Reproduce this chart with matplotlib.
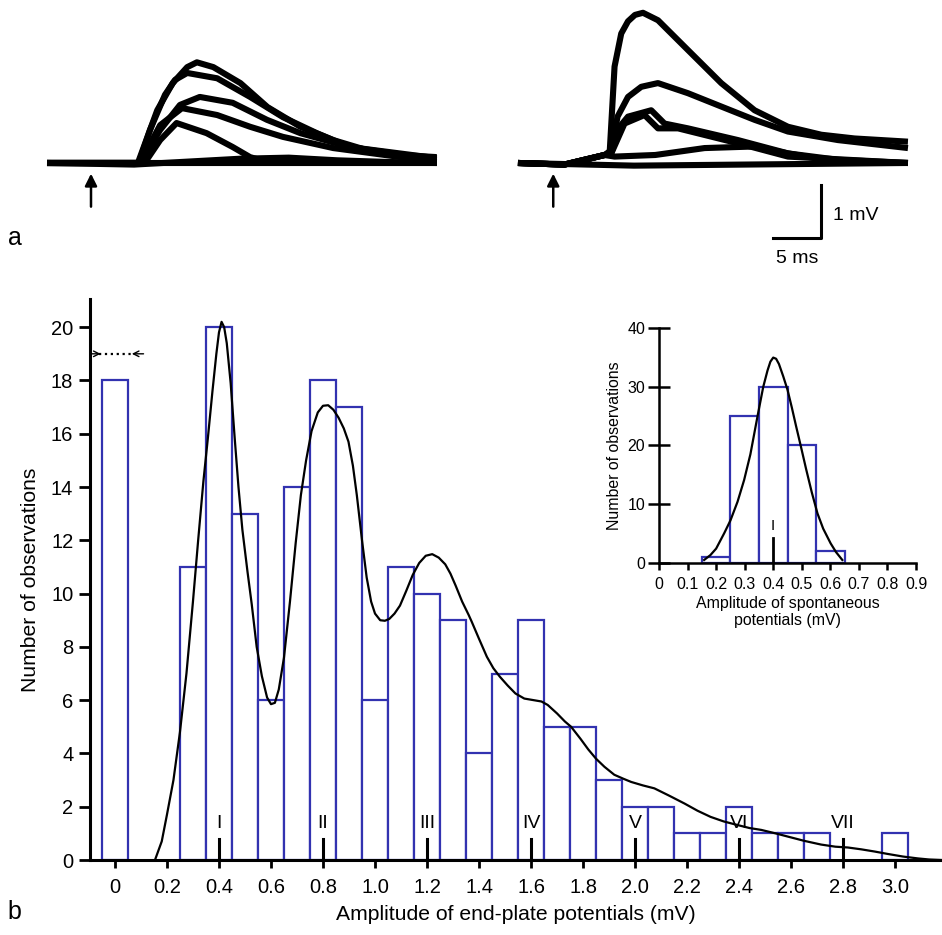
import numpy as np
import matplotlib
matplotlib.use("Agg")
import matplotlib.pyplot as plt

plt.rcParams['font.family'] = ['Liberation Sans', 'DejaVu Sans']

# ---- panel a: superimposed end-plate potentials (time in ms, amplitude in mV)
left_traces = [
    ([0, 9.4, 11.4, 13.0, 14.5, 15.5, 17.2, 20.0, 22.8, 26.2, 29.6, 33.1, 36.5, 40.3],
     [0, 0, 0.99, 1.50, 1.80, 1.89, 1.80, 1.50, 1.05, 0.68, 0.43, 0.24, 0.15, 0.11]),
    ([0, 9.5, 10.65, 12.2, 13.24, 14.5, 17.6, 21.0, 24.4, 27.9, 31.3, 40.3],
     [0, 0, 0.62, 1.28, 1.56, 1.69, 1.59, 1.24, 0.86, 0.56, 0.30, 0.09]),
    ([0, 9.6, 11.7, 13.75, 15.8, 19.2, 22.75, 26.2, 31.3, 40.3],
     [0, 0, 0.62, 1.09, 1.24, 1.13, 0.81, 0.56, 0.30, 0.06]),
    ([0, 9.6, 11.7, 13.96, 17.6, 21.0, 24.4, 29.6, 40.3],
     [0, 0, 0.71, 1.03, 0.90, 0.68, 0.49, 0.28, 0.02]),
    ([0, 10.1, 11.7, 13.4, 16.5, 19.2, 21.0, 22.75, 40.3],
     [0, 0, 0.43, 0.75, 0.56, 0.30, 0.11, 0.02, 0]),
    ([0, 9.0, 20.0, 25.0, 30.0, 35.0, 40.3],
     [0, -0.03, 0.08, 0.10, 0.05, 0.02, 0]),
    ([0, 40.3], [0, 0]),
]
right_traces = [
    ([0, 4.8, 8.96, 9.47, 9.99, 10.68, 11.38, 12.1, 12.93, 14.48, 17.58, 21.02, 24.47, 27.92, 31.37, 34.81, 40.33],
     [0, -0.03, 0.15, 0.15, 1.81, 2.43, 2.66, 2.78, 2.82, 2.68, 2.12, 1.50, 0.99, 0.68, 0.53, 0.46, 0.40]),
    ([0, 4.8, 8.96, 9.65, 10.3, 11.38, 12.75, 14.48, 17.58, 21.02, 24.47, 27.92, 33.09, 40.33],
     [0, -0.03, 0.15, 0.24, 0.87, 1.24, 1.43, 1.50, 1.31, 1.06, 0.81, 0.59, 0.43, 0.28]),
    ([0, 4.8, 8.96, 9.65, 10.51, 11.38, 13.78, 15.16, 17.58, 22.75, 27.92, 33.09, 40.33],
     [0, -0.03, 0.15, 0.18, 0.68, 0.87, 0.99, 0.74, 0.65, 0.43, 0.18, 0.06, 0]),
    ([0, 4.8, 8.96, 9.65, 11.02, 13.09, 14.48, 16.55, 22.75, 27.92, 40.33],
     [0, -0.03, 0.15, 0.18, 0.74, 0.90, 0.65, 0.65, 0.37, 0.12, 0]),
    ([0, 4.8, 8.96, 9.99, 14.2, 19.3, 24.47, 27.92, 33.09, 40.33],
     [0, -0.03, 0.15, 0.12, 0.15, 0.28, 0.31, 0.18, 0.02, 0]),
    ([0, 12.0, 40.33], [0, -0.05, 0]),
]
right_offset = 48.7
stim_times = [4.55, 3.65]

# ---- panel b: histogram of EPP amplitudes
epp_centers = [0.0, 0.3, 0.4, 0.5, 0.6, 0.7, 0.8, 0.9, 1.0, 1.1, 1.2, 1.3, 1.4, 1.5,
               1.6, 1.7, 1.8, 1.9, 2.0, 2.1, 2.2, 2.3, 2.4, 2.5, 2.6, 2.7, 3.0]
epp_counts = [18, 11, 20, 13, 6, 14, 18, 17, 6, 11, 10, 9, 4, 7,
              9, 5, 5, 3, 2, 2, 1, 1, 2, 1, 1, 1, 1]
fit_x = [0.154, 0.18, 0.20, 0.225, 0.25, 0.275, 0.30, 0.32, 0.34, 0.358, 0.375, 0.39,
         0.40, 0.41, 0.42, 0.43, 0.445, 0.46, 0.475, 0.49, 0.51, 0.526, 0.545, 0.565,
         0.585, 0.60, 0.615, 0.63, 0.65, 0.673, 0.695, 0.715, 0.735, 0.756, 0.78, 0.80,
         0.82, 0.84, 0.86, 0.88, 0.898, 0.915, 0.93, 0.95, 0.968, 0.985, 1.0, 1.02,
         1.038, 1.055, 1.075, 1.096, 1.12, 1.145, 1.17, 1.195, 1.22, 1.245, 1.27, 1.29,
         1.31, 1.335, 1.36, 1.372, 1.40, 1.43, 1.455, 1.48, 1.51, 1.54, 1.574, 1.61,
         1.64, 1.664, 1.70, 1.73, 1.754, 1.79, 1.82, 1.85, 1.882, 1.92, 1.955, 1.985,
         2.03, 2.074, 2.13, 2.19, 2.24, 2.29, 2.34, 2.395, 2.44, 2.485, 2.54, 2.587,
         2.65, 2.715, 2.77, 2.818, 2.87, 2.92, 2.97, 3.03, 3.087, 3.13, 3.18]
fit_y = [0, 0.7, 1.7, 3.0, 4.8, 7.0, 9.7, 12.0, 14.2, 15.9, 17.6, 19.0,
         19.8, 20.2, 20.0, 19.4, 17.9, 15.9, 14.0, 12.4, 10.8, 9.6, 8.0, 6.9,
         6.1, 5.85, 5.9, 6.4, 7.6, 9.7, 11.9, 13.7, 15.0, 16.1, 16.8, 17.05,
         17.07, 16.9, 16.6, 16.2, 15.7, 14.8, 13.7, 12.0, 10.6, 9.7, 9.25, 9.0,
         8.98, 9.05, 9.25, 9.55, 10.1, 10.7, 11.15, 11.42, 11.48, 11.35, 11.1, 10.75,
         10.3, 9.7, 9.2, 8.94, 8.3, 7.63, 7.2, 6.88, 6.55, 6.25, 6.06, 6.0,
         5.95, 5.82, 5.5, 5.2, 5.0, 4.55, 4.15, 3.8, 3.5, 3.2, 3.05, 2.93,
         2.8, 2.69, 2.42, 2.12, 1.85, 1.62, 1.45, 1.31, 1.2, 1.13, 1.0, 0.88,
         0.72, 0.58, 0.5, 0.47, 0.4, 0.32, 0.23, 0.13, 0.06, 0.02, 0]
unit_levels = [0.4, 0.8, 1.2, 1.6, 2.0, 2.4, 2.8]
unit_names = ['I', 'II', 'III', 'IV', 'V', 'VI', 'VII']
main_ticks = [0, 0.2, 0.4, 0.6, 0.8, 1.0, 1.2, 1.4, 1.6, 1.8, 2.0, 2.2, 2.4, 2.6, 2.8, 3.0]
main_ticklabels = ['0', '0.2', '0.4', '0.6', '0.8', '1.0', '1.2', '1.4', '1.6', '1.8',
                   '2.0', '2.2', '2.4', '2.6', '2.8', '3.0']

# ---- inset: spontaneous potentials
spont_centers = [0.2, 0.3, 0.4, 0.5, 0.6]
spont_counts = [1, 25, 30, 20, 2]
spont_fit_x = [0.158, 0.18, 0.20, 0.228, 0.25, 0.275, 0.298, 0.32, 0.345, 0.365, 0.38,
               0.39, 0.40, 0.41, 0.42, 0.435, 0.45, 0.465, 0.48, 0.497, 0.515, 0.535,
               0.555, 0.575, 0.601, 0.62, 0.642]
spont_fit_y = [0.46, 1.3, 2.4, 5.0, 7.2, 10.4, 14.1, 18.5, 25.0, 30.0, 32.8,
               34.3, 35.0, 34.8, 33.9, 31.8, 29.5, 26.5, 23.3, 19.8, 16.0, 12.0,
               8.4, 5.8, 3.3, 1.8, 0.46]

bar_color = '#3232b0'

fig = plt.figure(figsize=(9.42, 9.35), dpi=100)

# panel a
axa = fig.add_axes([0, 0.7112, 1, 0.2888])
axa.set_xlim(-4.86, 92.55)
axa.set_ylim(-2.01, 3.06)
axa.axis('off')
for t, v in left_traces:
    axa.plot(t, v, color='black', lw=4.4, solid_capstyle='butt', solid_joinstyle='round')
for t, v in right_traces:
    axa.plot(np.array(t) + right_offset, v, color='black', lw=4.4,
             solid_capstyle='butt', solid_joinstyle='round')
for k, st in enumerate(stim_times):
    x = st + k * right_offset
    axa.annotate('', xy=(x, -0.2), xytext=(x, -0.82),
                 arrowprops=dict(arrowstyle='-|>', color='black', lw=1.8,
                                 mutation_scale=18, shrinkA=0, shrinkB=0))
axa.plot([75.05, 80.04, 80.04], [-1.41, -1.41, -0.41], color='black', lw=2.2)
axa.text(81.3, -0.98, '1 mV', fontsize=14, va='center', ha='left')
axa.text(77.6, -1.8, '5 ms', fontsize=14, va='center', ha='center')
fig.text(0.008, 0.745, 'a', fontsize=18, va='center')
fig.text(0.008, 0.025, 'b', fontsize=18, va='center')

# panel b
ax = fig.add_axes([0.0955, 0.0802, 0.9045, 0.5998])
ax.bar(epp_centers, epp_counts, width=0.1, facecolor='white', edgecolor=bar_color,
       linewidth=1.6, zorder=2)
ax.plot(fit_x, fit_y, color='black', lw=1.6, zorder=3)
for lvl, name in zip(unit_levels, unit_names):
    ax.plot([lvl, lvl], [0, 0.8], color='black', lw=2.2, zorder=4)
    ax.text(lvl, 1.05, name, fontsize=14, ha='center', va='bottom', zorder=4)
ax.plot([-0.06, 0.065], [19, 19], ':', color='black', lw=1.6)
ax.annotate('', xy=(-0.055, 19), xytext=(-0.095, 19),
            arrowprops=dict(arrowstyle='->', color='black', lw=1, shrinkA=0, shrinkB=0))
ax.annotate('', xy=(0.065, 19), xytext=(0.11, 19),
            arrowprops=dict(arrowstyle='->', color='black', lw=1, shrinkA=0, shrinkB=0))
ax.set_xlim(-0.096, 3.18)
ax.set_ylim(0, 21.05)
ax.set_xticks(main_ticks)
ax.set_xticklabels(main_ticklabels)
ax.set_yticks(range(0, 21, 2))
for s in ['top', 'right']:
    ax.spines[s].set_visible(False)
for s in ['left', 'bottom']:
    ax.spines[s].set_linewidth(2.2)
ax.tick_params(axis='y', length=8, width=2, labelsize=14.5, pad=4)
ax.tick_params(axis='x', length=6, width=2, labelsize=14.5, pad=7)
ax.set_ylabel('Number of observations', fontsize=15.2, labelpad=8)
ax.set_xlabel('Amplitude of end-plate potentials (mV)', fontsize=15.2, labelpad=6)

# inset
axi = fig.add_axes([0.6996, 0.3982, 0.2728, 0.2507])
axi.patch.set_alpha(0)
axi.bar(spont_centers, spont_counts, width=0.1, facecolor='white', edgecolor=bar_color,
        linewidth=1.6, zorder=2)
axi.plot(spont_fit_x, spont_fit_y, color='black', lw=1.6, zorder=3)
axi.plot([0.4, 0.4], [0, 4.2], color='black', lw=2, zorder=4)
axi.text(0.4, 5, 'I', fontsize=11, ha='center', va='bottom')
axi.set_xlim(0, 0.9)
axi.set_ylim(0, 40)
axi.set_xticks(np.arange(0, 0.95, 0.1))
axi.set_xticklabels(['0', '0.1', '0.2', '0.3', '0.4', '0.5', '0.6', '0.7', '0.8', '0.9'])
axi.set_yticks([0, 10, 20, 30, 40])
for s in ['top', 'right']:
    axi.spines[s].set_visible(False)
for s in ['left', 'bottom']:
    axi.spines[s].set_linewidth(1.8)
axi.tick_params(axis='y', direction='inout', length=16, width=1.8, labelsize=11.5, pad=2)
axi.tick_params(axis='x', length=5, width=1.8, labelsize=11.5, pad=5)
axi.set_ylabel('Number of observations', fontsize=11.4, labelpad=4)
axi.set_xlabel('Amplitude of spontaneous\npotentials (mV)', fontsize=11.4, labelpad=3)

fig.savefig('out.png', dpi=100)
